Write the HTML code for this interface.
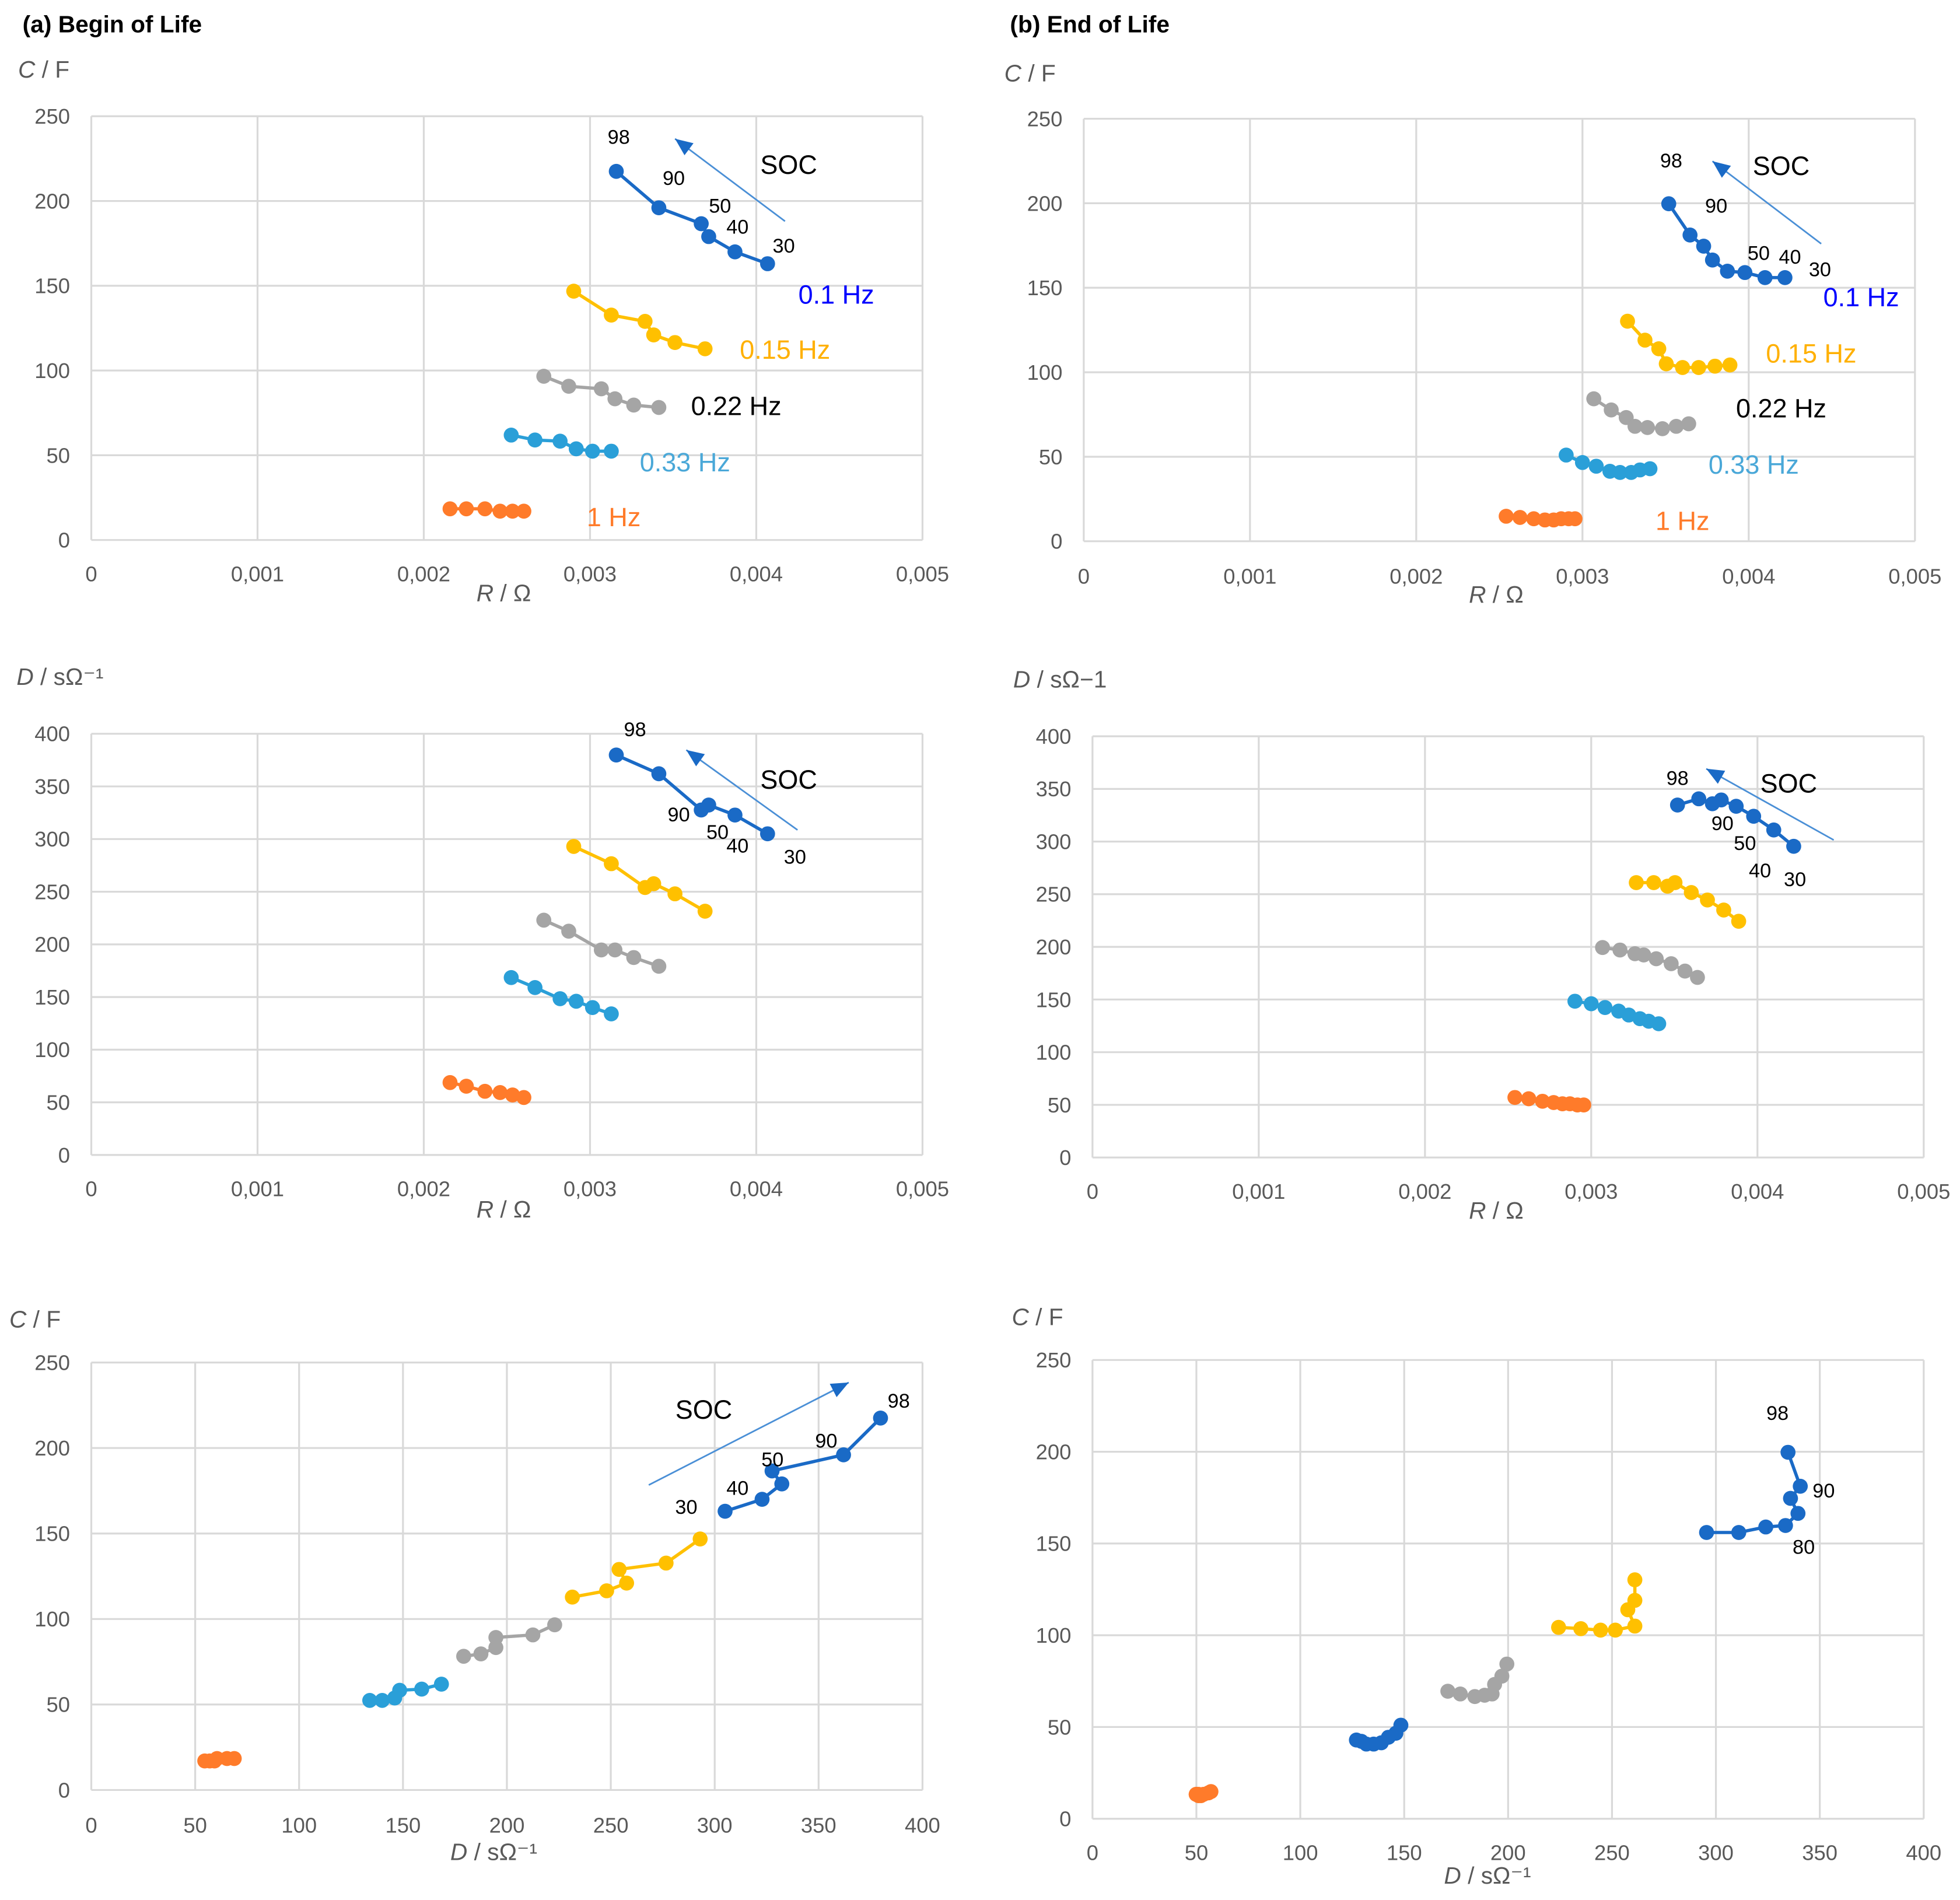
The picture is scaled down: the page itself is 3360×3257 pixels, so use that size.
<!DOCTYPE html>
<html><head><meta charset="utf-8"><style>
html,body{margin:0;padding:0;background:#fff}
svg{display:block}
text{font-family:"Liberation Sans",sans-serif}
</style></head><body>
<svg id="fig" xmlns="http://www.w3.org/2000/svg" width="3360" height="3257" viewBox="0 0 1568 1520">
<text x="18" y="26" font-size="19" font-weight="bold">(a)  Begin of Life</text>
<text x="808" y="26" font-size="19" font-weight="bold">(b)  End of Life</text>
</svg>
<script>
// ---- Begin of Life data (R in Ohm, C in F, D in s/Ohm) ----
const freqs = ["0.1 Hz","0.15 Hz","0.22 Hz","0.33 Hz","1 Hz"];
const aR_01 = [0.003158,0.003414,0.003669,0.003714,0.003872,0.004068];
const aC_01 = [217.5,196,186.6,179,170,163];
const aD_01 = [379.8,362,327.6,332.3,322.8,305];
const aR_015 = [0.002902,0.003128,0.003331,0.003383,0.003511,0.003692];
const aC_015 = [146.8,132.7,129,121,116.5,112.8];
const aD_015 = [293,276.6,254,257.6,248,231.5];
const aR_022 = [0.002722,0.002872,0.003068,0.003150,0.003263,0.003414];
const aC_022 = [96.6,90.7,89.2,83.3,79.6,78.2];
const aD_022 = [223,212.5,194.7,194.7,187.5,179.2];
const aR_033 = [0.002526,0.002669,0.002820,0.002917,0.003015,0.003128];
const aC_033 = [61.9,59,58.3,53.8,52.4,52.4];
const aD_033 = [168.5,159,148.4,146,140,134];
const aR_1 = [0.002158,0.002256,0.002368,0.002459,0.002534,0.002602];
const aC_1 = [18.4,18.4,18.4,17,17,17];
const aD_1 = [68.8,65.3,60.5,59.3,57,54.6];
// ---- End of Life data ----
const bR_01 = [0.003519,0.003647,0.003729,0.003782,0.003872,0.003977,0.004098,0.004218];
const bC_01 = [199.7,181.2,174.6,166.4,159.8,159,156,156];
const bD_01 = [334.7,340.6,335.9,339.5,333.5,324,311,295.5];
const bR_015 = [0.003271,0.003376,0.003459,0.003504,0.003602,0.003699,0.003797,0.003887];
const bC_015 = [130.2,119,113.9,105,102.8,102.8,103.6,104.3];
const bD_015 = [261,261,257.6,261,251.6,244.5,235,224.3];
const bR_022 = [0.003068,0.003173,0.003263,0.003316,0.003391,0.003481,0.003564,0.003639];
const bC_022 = [84.3,77.7,73.2,68,67.3,66.6,68,69.5];
const bD_022 = [199.4,197,193.5,192.3,188.7,184,177,171];
const bR_033 = [0.002902,0.003,0.003083,0.003165,0.003226,0.003293,0.003346,0.003406];
const bC_033 = [51,46.6,44.4,41.4,40.7,40.7,42.2,42.9];
const bD_033 = [148.4,146,142.4,139,135.3,131.8,129.4,127];
const bR_1 = [0.002541,0.002624,0.002707,0.002774,0.002827,0.002872,0.002917,0.002955];
const bC_1 = [14.8,14.1,13.3,12.6,12.6,13.3,13.3,13.3];
const bD_1 = [57,55.8,53.4,52.2,51,51,49.9,49.9];
const rTicks = ["0","0,001","0,002","0,003","0,004","0,005"];
const cTicks = ["0","50","100","150","200","250"];
const dTicks = ["0","50","100","150","200","250","300","350","400"];

const NS="http://www.w3.org/2000/svg";
const svg=document.getElementById('fig');
const colors=["#1a6ac6","#ffc000","#a5a5a5","#2a9fd8","#ff7b2a"];
function mk(tag,attrs,parent){const e=document.createElementNS(NS,tag);for(const k in attrs)e.setAttribute(k,attrs[k]);(parent||svg).appendChild(e);return e;}
function txt(x,y,s,size,fill,anchor,parent){const t=mk('text',{x:x,y:y,'font-size':size,fill:fill,'text-anchor':anchor||'start'},parent);t.textContent=s;return t;}

function chart(id,x0,x1,y0,y1,xmax,ymax,xt,yt,xlabY){
  const g=mk('g',{});
  
  
  const sx=v=>x0+(x1-x0)*v/xmax, sy=v=>y1-(y1-y0)*v/ymax;
  xt.forEach((l,i)=>{const x=x0+(x1-x0)*i/(xt.length-1);
    const ln=mk('line',{x1:x,x2:x,y1:y0,y2:y1,stroke:'#d9d9d9','stroke-width':1.5},g);
    
    
    const t=txt(x,xlabY,l,17,'#595959','middle',g);
    
    });
  yt.forEach((l,i)=>{const y=y1-(y1-y0)*i/(yt.length-1);
    const ln=mk('line',{x1:x0,x2:x1,y1:y,y2:y,stroke:'#d9d9d9','stroke-width':1.5},g);
    
    
    const t=txt(x0-17,y+6,l,17,'#595959','end',g);
    
    });
  return {g,sx,sy};
}
function series(c,xs,ys,col,name){
  const g=mk('g',{},c.g);
  
  
  const pts=xs.map((v,i)=>c.sx(v)+','+c.sy(ys[i])).join(' ');
  mk('polyline',{points:pts,fill:'none',stroke:col,'stroke-width':2.6},g);
  xs.forEach((v,i)=>{const p=mk('circle',{cx:c.sx(v),cy:c.sy(ys[i]),r:6,fill:col},g);
    
    });
}
function label(x,y,s,size,fill,name){const t=txt(x,y,s,size,fill,'middle');
  
  return t;}
function arrow(xa,ya,xb,yb,name){const g=mk('g',{});
  
  
  mk('line',{x1:xa,y1:ya,x2:xb,y2:yb,stroke:'#4a8fd6','stroke-width':1.3},g);
  const a=Math.atan2(yb-ya,xb-xa),L=14,W=6;
  const bx=xb-L*Math.cos(a),by=yb-L*Math.sin(a);
  mk('polygon',{points:`${xb},${yb} ${bx+W*Math.sin(a)},${by-W*Math.cos(a)} ${bx-W*Math.sin(a)},${by+W*Math.cos(a)}`,fill:'#1a6ac6'},g);}

const A_R=[aR_01,aR_015,aR_022,aR_033,aR_1], A_C=[aC_01,aC_015,aC_022,aC_033,aC_1], A_D=[aD_01,aD_015,aD_022,aD_033,aD_1];
const B_R=[bR_01,bR_015,bR_022,bR_033,bR_1], B_C=[bC_01,bC_015,bC_022,bC_033,bC_1], B_D=[bD_01,bD_015,bD_022,bD_033,bD_1];

// A1
let c=chart('chart-a-c-vs-r',73,738,93,432,0.005,250,rTicks,cTicks,465);
for(let i=4;i>=0;i--)series(c,A_R[i],A_C[i],colors[i],'series-'+freqs[i].replace(' ','-'));
// A2
c=chart('chart-a-d-vs-r',73,738,587,924,0.005,400,rTicks,dTicks,957);
for(let i=4;i>=0;i--)series(c,A_R[i],A_D[i],colors[i],'series-'+freqs[i].replace(' ','-'));
// A3
c=chart('chart-a-c-vs-d',73,738,1090,1432,400,250,dTicks,cTicks,1466);
for(let i=4;i>=0;i--)series(c,A_D[i],A_C[i],colors[i],'series-'+freqs[i].replace(' ','-'));
// B1
c=chart('chart-b-c-vs-r',867,1532,95,433,0.005,250,rTicks,cTicks,467);
for(let i=4;i>=0;i--)series(c,B_R[i],B_C[i],colors[i],'series-'+freqs[i].replace(' ','-'));
// B2
c=chart('chart-b-d-vs-r',874,1539,589,926,0.005,400,rTicks,dTicks,959);
for(let i=4;i>=0;i--)series(c,B_R[i],B_D[i],colors[i],'series-'+freqs[i].replace(' ','-'));
// B3
c=chart('chart-b-c-vs-d',874,1539,1088,1455,400,250,dTicks,cTicks,1488);
const b3cols=[colors[0],colors[1],colors[2],colors[0],colors[4]];
for(let i=4;i>=0;i--)series(c,B_D[i],B_C[i],b3cols[i],'series-'+freqs[i].replace(' ','-'));

// axis titles
function atitle(x,y,italic,rest,name){const t=mk('text',{x:x,y:y,'font-size':19,fill:'#595959','text-anchor':'middle'});
  
  
  const s1=mk('tspan',{'font-style':'italic'},t);s1.textContent=italic;
  const s2=mk('tspan',{},t);s2.textContent=rest;}
atitle(35,62,'C',' / F','y-axis-title-a1');atitle(824,65,'C',' / F','y-axis-title-b1');
atitle(403,481,'R',' / Ω','x-axis-title-a1');atitle(1197,482,'R',' / Ω','x-axis-title-b1');
atitle(48,548,'D',' / sΩ⁻¹','y-axis-title-a2');atitle(848,550,'D',' / sΩ−1','y-axis-title-b2');
atitle(403,974,'R',' / Ω','x-axis-title-a2');atitle(1197,975,'R',' / Ω','x-axis-title-b2');
atitle(28,1062,'C',' / F','y-axis-title-a3');atitle(830,1060,'C',' / F','y-axis-title-b3');
atitle(395,1488,'D',' / sΩ⁻¹','x-axis-title-a3');atitle(1190,1507,'D',' / sΩ⁻¹','x-axis-title-b3');

// frequency labels
const fcol=["#0000ff","#ffb000","#000000","#4aa8d8","#ff7b2a"];
const aFx=[669,628,589,548,491], aFy=[235,279,324,369,413];
const bFx=[1489,1449,1425,1403,1346], bFy=[237,282,326,371,416];
for(let i=0;i<5;i++){label(aFx[i],aFy[i]+8,freqs[i],21,fcol[i],'freq-label-a');label(bFx[i],bFy[i]+8,freqs[i],21,fcol[i],'freq-label-b');}

// SOC labels and arrows
[[631,131],[1425,132],[631,623],[1431,626],[563,1127]].forEach(p=>label(p[0],p[1]+8,'SOC',21,'#000','soc-label'));
arrow(628,177,540,111,'soc-arrow-a1');arrow(1457,195,1370,129,'soc-arrow-b1');
arrow(638,664,549,600,'soc-arrow-a2');arrow(1467,672,1365,615,'soc-arrow-b2');
arrow(519,1188,679,1106,'soc-arrow-a3');
const socLabels=[
 [495,109,'98'],[539,142,'90'],[576,164,'50'],[590,181,'40'],[627,196,'30'],
 [1337,128,'98'],[1373,164,'90'],[1407,202,'50'],[1432,205,'40'],[1456,215,'30'],
 [508,583,'98'],[543,651,'90'],[574,665,'50'],[590,676,'40'],[636,685,'30'],
 [1342,622,'98'],[1378,658,'90'],[1396,674,'50'],[1408,696,'40'],[1436,703,'30'],
 [549,1205,'30'],[590,1190,'40'],[618,1167,'50'],[661,1152,'90'],[719,1120,'98'],
 [1422,1130,'98'],[1459,1192,'90'],[1443,1237,'80']];
socLabels.forEach(s=>label(s[0],s[1]+6,s[2],16,'#000','soc-value-label'));
</script>
</body></html>
